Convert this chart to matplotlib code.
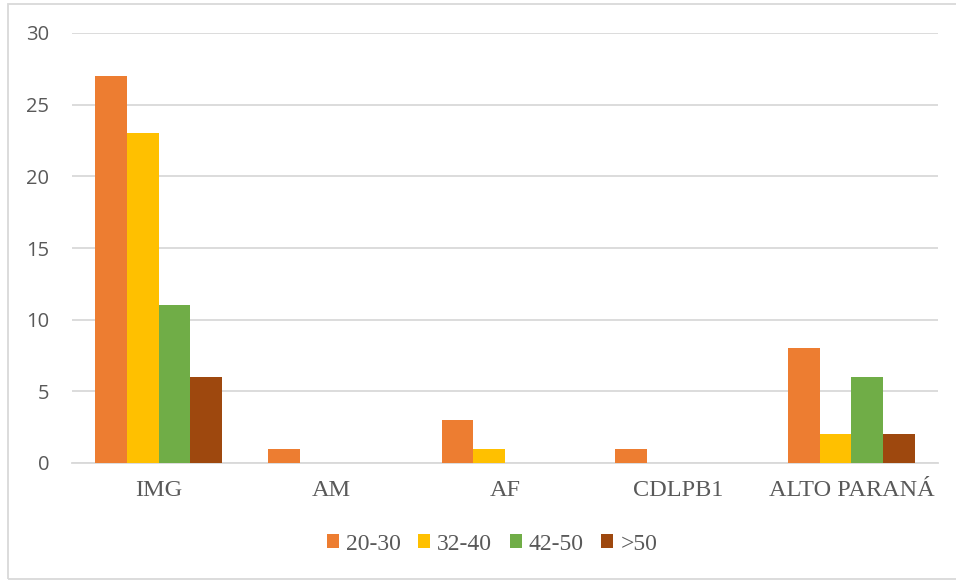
import matplotlib
matplotlib.use("Agg")
import matplotlib.pyplot as plt
import numpy as np
from matplotlib.patches import Rectangle

categories = ["IMG", "AM", "AF", "CDLPB1", "ALTO PARANÁ"]
series_names = ["20-30", "32-40", "42-50", ">50"]
s_20_30 = [27, 1, 3, 1, 8]
s_32_40 = [23, 0, 1, 0, 2]
s_42_50 = [11, 0, 0, 0, 6]
s_50_plus = [6, 0, 0, 0, 2]
y_ticks = [0, 5, 10, 15, 20, 25, 30]

colors = ["#ED7D31", "#FFC000", "#70AD47", "#9E480E"]
grid_color = "#D9D9D9"
text_color = "#595959"

fig = plt.figure(figsize=(9.56, 5.8), dpi=100)
W, H = 956, 580
ax = fig.add_axes([72 / W, 117 / H, (938 - 72) / W, (463 - 33) / H])

x = np.arange(len(categories))
bar_w = 0.183
series = [s_20_30, s_32_40, s_42_50, s_50_plus]
handles = []
for i, (vals, col) in enumerate(zip(series, colors)):
    offs = (i - 1.5) * bar_w
    b = ax.bar(x + offs, vals, width=bar_w, color=col, zorder=3, linewidth=0)
    handles.append(b)

ax.set_xlim(-0.5, len(categories) - 0.5)
ax.set_ylim(0, 30)
ax.set_yticks(y_ticks)
ax.yaxis.grid(True, color=grid_color, linewidth=1.3, zorder=0)
ax.set_axisbelow(True)
for side in ["left", "right", "top"]:
    ax.spines[side].set_visible(False)
ax.spines["bottom"].set_color(grid_color)
ax.spines["bottom"].set_linewidth(1.3)
ax.tick_params(axis="y", length=0, pad=16.5, labelsize=14.5, labelcolor=text_color)
ax.tick_params(axis="x", length=0, pad=12, labelcolor=text_color)
for lab in ax.get_yticklabels():
    lab.set_fontfamily("Open Sans")
ax.set_xticks(x)
ax.set_xticklabels(categories, fontfamily="Liberation Serif", fontsize=17.5)

fig.legend(handles, series_names, loc="center", bbox_to_anchor=(492 / W, 1 - 544 / H),
           ncol=4, frameon=False, handlelength=0.5, handleheight=0.5,
           handletextpad=0.3, columnspacing=0.75,
           prop={"family": "Liberation Serif", "size": 17}, labelcolor=text_color)

# chart border
fig.patches.append(Rectangle((7.5 / W, 1.5 / H), (W + 4) / W, (H - 5.5) / H,
                             transform=fig.transFigure, fill=False,
                             edgecolor=grid_color, linewidth=1.3))

fig.savefig("out.png", dpi=100, facecolor="white")
